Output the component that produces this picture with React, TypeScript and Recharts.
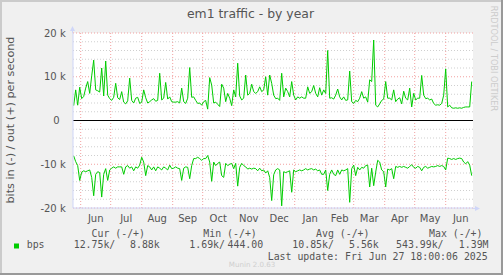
import React from 'react';
import { LineChart, Line, XAxis, YAxis, CartesianGrid, ReferenceLine } from 'recharts';

// one sample every 2 days, first sample 7 days before 2024-06-01
const START_DAY = -7;
const STEP_DAYS = 2;

// out (+), k bits per second
const OUT_K = [
  3.4, 7.0, 3.5, 7.6, 5.0, 5.5, 7.4, 8.9, 6.2, 10.2,
  13.8, 7.0, 6.8, 6.5, 12.0, 5.6, 13.6, 5.8, 5.0, 4.6,
  5.3, 8.5, 5.2, 4.8, 6.6, 4.2, 3.8, 4.5, 9.7, 4.6,
  4.0, 5.1, 5.3, 3.9, 4.2, 7.0, 5.2, 4.0, 4.3, 4.7,
  5.0, 4.4, 4.6, 10.8, 4.7, 5.1, 8.7, 4.9, 5.4, 4.3,
  4.2, 4.2, 4.3, 4.0, 7.4, 4.3, 3.9, 5.1, 12.1, 5.3,
  5.4, 4.6, 3.9, 4.0, 3.5, 4.3, 4.6, 2.6, 9.8, 8.1,
  4.0, 4.2, 3.7, 3.2, 8.3, 7.4, 4.3, 6.2, 5.1, 3.4,
  7.0, 5.4, 13.1, 5.6, 4.7, 5.1, 10.4, 5.8, 6.2, 8.3,
  6.6, 6.2, 6.6, 7.7, 6.6, 7.0, 10.0, 5.8, 10.4, 8.5,
  5.8, 5.0, 5.1, 4.6, 10.8, 5.4, 7.4, 6.6, 5.4, 8.9,
  5.8, 4.7, 5.4, 5.1, 5.4, 5.1, 5.1, 7.7, 6.2, 6.6,
  8.0, 6.2, 5.4, 7.5, 5.8, 7.0, 6.2, 16.0, 5.1, 5.2,
  4.9, 5.8, 7.2, 5.4, 4.7, 5.4, 4.6, 4.7, 11.3, 4.3,
  3.9, 4.6, 4.3, 5.1, 6.6, 5.1, 5.4, 4.2, 9.3, 8.9,
  18.4, 3.5, 3.1, 3.8, 4.6, 4.9, 8.9, 5.1, 5.1, 4.7,
  7.0, 4.3, 4.9, 5.2, 3.8, 6.7, 5.1, 4.7, 7.4, 3.1,
  6.2, 4.7, 5.1, 5.1, 10.3, 5.8, 5.0, 5.1, 4.7, 4.9,
  3.9, 3.5, 3.6, 3.5, 3.9, 5.8, 11.8, 3.1, 3.5, 2.9,
  2.8, 2.9, 2.8, 2.9, 2.8, 3.0, 3.1, 3.1, 3.1, 8.9,
];

// in (-), k bits per second, drawn below zero
const IN_K = [
  8.1, 9.4, 10.3, 13.7, 11.8, 11.5, 11.7, 11.5, 11.3, 13.0,
  17.2, 12.3, 11.7, 11.9, 17.5, 12.3, 11.0, 13.7, 11.3, 10.9,
  10.6, 10.9, 10.6, 10.6, 10.6, 12.3, 10.6, 10.3, 10.9, 10.6,
  11.5, 10.6, 10.9, 10.2, 8.4, 9.5, 12.6, 10.3, 10.6, 11.3,
  10.6, 11.5, 10.6, 10.9, 11.3, 10.6, 10.9, 11.3, 10.2, 11.0,
  10.9, 10.6, 10.9, 11.0, 13.7, 10.9, 10.6, 10.7, 13.3, 10.3,
  8.7, 8.7, 8.4, 8.7, 9.1, 8.7, 8.7, 8.0, 9.5, 13.9,
  9.5, 10.3, 9.8, 9.5, 12.6, 13.0, 9.8, 10.3, 10.0, 9.8,
  11.0, 9.8, 15.0, 10.7, 9.8, 10.3, 10.6, 11.1, 10.9, 11.1,
  10.9, 11.0, 11.5, 10.9, 11.5, 11.3, 12.0, 11.5, 13.0, 18.3,
  12.4, 11.3, 11.0, 11.3, 19.5, 11.7, 11.9, 11.7, 11.5, 16.4,
  11.3, 11.7, 11.5, 11.3, 11.5, 11.3, 11.0, 11.3, 11.1, 11.0,
  11.3, 11.1, 11.5, 11.3, 12.3, 12.3, 11.3, 16.0, 12.3, 11.3,
  12.3, 12.6, 11.3, 12.3, 11.3, 11.5, 11.3, 11.0, 18.7, 11.0,
  10.2, 12.6, 10.7, 11.3, 10.7, 10.9, 10.3, 10.2, 15.2, 10.9,
  14.9, 11.8, 9.1, 9.5, 11.3, 11.7, 15.2, 11.1, 11.3, 11.0,
  13.3, 10.5, 10.7, 10.5, 10.7, 10.5, 10.7, 10.9, 10.5, 10.1,
  10.7, 10.9, 10.5, 10.7, 11.5, 10.7, 10.5, 10.9, 10.7, 10.5,
  10.6, 10.5, 10.3, 10.5, 10.3, 10.5, 11.3, 8.6, 8.7, 8.9,
  8.7, 8.9, 8.7, 8.6, 8.7, 9.5, 9.9, 9.4, 10.2, 12.6,
];

// month boundaries (days from 2024-06-01) and labels centred in each month
const MONTH_STARTS = [0, 30, 61, 92, 122, 153, 183, 214, 245, 273, 304, 334, 365];
const MONTH_MIDS = [15, 45.5, 76.5, 107, 137.5, 168, 198.5, 229.5, 259, 288.5, 319, 349.5, 380];
const MONTH_LABELS = ['Jun', 'Jul', 'Aug', 'Sep', 'Oct', 'Nov', 'Dec', 'Jan', 'Feb', 'Mar', 'Apr', 'May', 'Jun'];
const X_DOMAIN = [-7.7, 392.3];

const Y_TICKS = [-20, -10, 0, 10, 20];
const Y_LABELS = ['-20 k', '-10 k', '0', '10 k', '20 k'];
const MAJOR_Y = [-20, -10, 10, 20];
const MINOR_Y = [-18, -16, -14, -12, -8, -6, -4, -2, 2, 4, 6, 8, 12, 14, 16, 18];

const LEGEND_HEADS = ['Cur (-/+)', 'Min (-/+)', 'Avg (-/+)', 'Max (-/+)'];
const LEGEND_IN = ['12.75k/', '1.69k/', '10.85k/', '543.99k/'];
const LEGEND_OUT = ['8.88k', '444.00', '5.56k', '1.39M'];
const LAST_UPDATE = 'Last update: Fri Jun 27 18:00:06 2025';

const data = OUT_K.map((v, i) => ({ day: START_DAY + i * STEP_DAYS, out: v, in: -IN_K[i] }));

const GREEN = '#00cc00';
const FONT = '#555555';
const AXIS = '#cfd6f8';
const MAJOR = '#f2a0a0';
const MINOR = '#cfcfcf';
const SANS = 'DejaVu Sans';
const MONO = 'DejaVu Sans Mono';

const YTick = (props: any) => {
  const { y, payload } = props;
  const i = Y_TICKS.indexOf(payload.value);
  return (
    <text x={payload.value === 0 ? 59.5 : 65.7} y={y + 3.6} textAnchor="end" fontFamily={SANS} fontSize={10} fill={FONT}>
      {Y_LABELS[i]}
    </text>
  );
};

const XTick = (props: any) => {
  const { x, payload } = props;
  const i = MONTH_MIDS.indexOf(payload.value);
  return (
    <text x={x} y={221.5} textAnchor="middle" fontFamily={SANS} fontSize={10} fill={FONT}>
      {MONTH_LABELS[i]}
    </text>
  );
};

const headX = [91.5, 203.3, 316, 429];
const inX = [73.7, 189.3, 292.3, 396];
const outX = [130, 227.5, 349, 458.8];

export default function App() {
  return (
    <div style={{ position: 'absolute', left: 0, top: 0, width: 503, height: 275, background: '#f0f0f0' }}>
      <LineChart width={503} height={275} data={data} margin={{ top: 33, right: 30, bottom: 0, left: 0 }}>
        <CartesianGrid fill="#ffffff" stroke="none" horizontal={false} vertical={false} />
        {MINOR_Y.map((v) => (
          <ReferenceLine key={'m' + v} y={v} stroke={MINOR} strokeDasharray="1 2" />
        ))}
        {MAJOR_Y.map((v) => (
          <ReferenceLine key={'M' + v} y={v} stroke={MAJOR} strokeDasharray="1 2" />
        ))}
        {MONTH_STARTS.map((d) => (
          <ReferenceLine key={'x' + d} x={d} stroke={MAJOR} strokeDasharray="1 2" />
        ))}
        <XAxis
          type="number"
          dataKey="day"
          domain={X_DOMAIN}
          ticks={MONTH_MIDS}
          allowDataOverflow
          interval={0}
          height={67}
          tickLine={false}
          axisLine={{ stroke: AXIS }}
          tick={<XTick />}
        />
        <YAxis
          type="number"
          domain={[-20, 20]}
          ticks={Y_TICKS}
          allowDataOverflow
          interval={0}
          width={73}
          tickLine={false}
          axisLine={{ stroke: AXIS }}
          tick={<YTick />}
        />
        <ReferenceLine y={0} stroke="#000000" />
        <Line type="linear" dataKey="out" stroke={GREEN} strokeWidth={1} dot={false} isAnimationActive={false} />
        <Line type="linear" dataKey="in" stroke={GREEN} strokeWidth={1} dot={false} isAnimationActive={false} />
      </LineChart>
      <svg width={503} height={275} style={{ position: 'absolute', left: 0, top: 0, pointerEvents: 'none' }}>
        {/* frame */}
        <rect x={0} y={0} width={503} height={2} fill="#cbcbcb" />
        <rect x={0} y={0} width={2} height={275} fill="#cbcbcb" />
        <rect x={501} y={0} width={2} height={275} fill="#999999" />
        <rect x={0} y={273} width={503} height={2} fill="#999999" />
        {/* axis arrows */}
        <line x1={72.5} y1={33} x2={72.5} y2={28} stroke={AXIS} />
        <polygon points="70,31 75,31 72.5,26" fill={AXIS} />
        <line x1={473} y1={208.5} x2={477} y2={208.5} stroke={AXIS} />
        <polygon points="475,206 475,211 480,208.5" fill={AXIS} />
        <text x={250.5} y={18} textAnchor="middle" fontFamily={SANS} fontSize={12.4} fill={FONT}>
          em1 traffic - by year
        </text>
        <text transform="translate(14.3,120) rotate(-90)" textAnchor="middle" fontFamily={SANS} fontSize={11.2} fill={FONT}>
          bits in (-) / out (+) per second
        </text>
        <text transform="translate(490.7,58.5) rotate(90)" textAnchor="middle" fontFamily={SANS} fontSize={8.2} fill="#cccccc">
          RRDTOOL / TOBI OETIKER
        </text>
        {LEGEND_HEADS.map((t, i) => (
          <text key={t} x={headX[i]} y={236.5} fontFamily={MONO} fontSize={9.9} fill={FONT}>{t}</text>
        ))}
        <rect x={14} y={243.5} width={5} height={5} fill={GREEN} />
        <text x={26.7} y={247.5} fontFamily={MONO} fontSize={9.9} fill={FONT}>bps</text>
        {LEGEND_IN.map((t, i) => (
          <text key={'i' + i} x={inX[i]} y={247.5} fontFamily={MONO} fontSize={9.9} fill={FONT}>{t}</text>
        ))}
        {LEGEND_OUT.map((t, i) => (
          <text key={'o' + i} x={outX[i]} y={247.5} fontFamily={MONO} fontSize={9.9} fill={FONT}>{t}</text>
        ))}
        <text x={267.7} y={260} fontFamily={MONO} fontSize={9.9} fill={FONT}>{LAST_UPDATE}</text>
        <text x={252} y={266.5} textAnchor="middle" fontFamily={SANS} fontSize={7.1} fill="#cfcfcf">Munin 2.0.63</text>
      </svg>
    </div>
  );
}
